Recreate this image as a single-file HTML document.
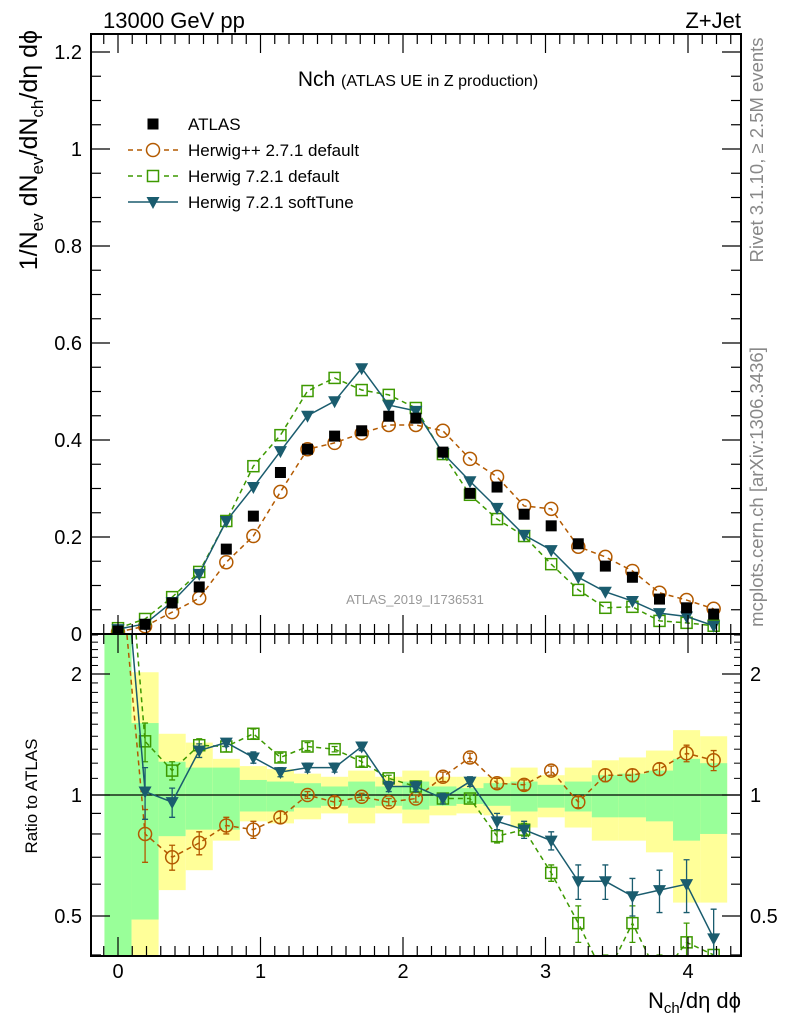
<!DOCTYPE html>
<html><head><meta charset="utf-8"><style>
html,body{margin:0;padding:0;background:#fff;}
svg{display:block;font-family:"Liberation Sans",sans-serif;}
</style></head><body>
<svg id="c" width="786" height="1024" viewBox="0 0 786 1024" xmlns="http://www.w3.org/2000/svg">
<defs>
<clipPath id="cm"><rect x="91" y="34" width="650" height="600"/></clipPath>
<clipPath id="cr"><rect x="91" y="634" width="650" height="322"/></clipPath>
</defs>
<g id="bands" clip-path="url(#cr)"></g>
<g id="marks"></g>
<g id="axes"></g>
<text x="103" y="28" font-size="22">13000 GeV pp</text>
<text x="741" y="28" font-size="22" text-anchor="end">Z+Jet</text>
<text x="418" y="86" text-anchor="middle" font-size="21">Nch <tspan font-size="16">(ATLAS UE in Z production)</tspan></text>
<text x="415" y="604" text-anchor="middle" font-size="13" fill="#999">ATLAS_2019_I1736531</text>
<text transform="translate(763,150) rotate(-90)" text-anchor="middle" font-size="18.5" fill="#888">Rivet 3.1.10, ≥ 2.5M events</text>
<text transform="translate(763,487) rotate(-90)" text-anchor="middle" font-size="18.5" fill="#888">mcplots.cern.ch [arXiv:1306.3436]</text>
<text transform="translate(37,30) rotate(-90)" text-anchor="end" font-size="25">1/N<tspan font-size="17" dy="6">ev</tspan><tspan dy="-6"> dN</tspan><tspan font-size="17" dy="6">ev</tspan><tspan dy="-6">/dN</tspan><tspan font-size="17" dy="6">ch</tspan><tspan dy="-6">/dη dϕ</tspan></text>
<text transform="translate(37,796) rotate(-90)" text-anchor="middle" font-size="17">Ratio to ATLAS</text>
<text x="741" y="1008" text-anchor="end" font-size="22">N<tspan font-size="15" dy="5">ch</tspan><tspan dy="-5">/dη dϕ</tspan></text>
<g id="legend"></g>
</svg>
<script>
const xs=[0,0.19,0.38,0.57,0.76,0.95,1.14,1.33,1.52,1.71,1.9,2.09,2.28,2.47,2.66,2.85,3.04,3.23,3.42,3.61,3.8,3.99,4.18];
const atlas=[0.006,0.02,0.064,0.097,0.175,0.243,0.333,0.381,0.408,0.419,0.449,0.445,0.375,0.29,0.303,0.247,0.223,0.186,0.14,0.117,0.072,0.054,0.041];
const hwpp=[0.004,0.016,0.045,0.074,0.148,0.202,0.293,0.381,0.394,0.414,0.431,0.431,0.419,0.361,0.324,0.264,0.258,0.18,0.159,0.13,0.085,0.07,0.052];
const hw7=[0.012,0.031,0.076,0.128,0.233,0.346,0.41,0.501,0.528,0.503,0.493,0.466,0.371,0.287,0.237,0.202,0.144,0.091,0.054,0.056,0.027,0.023,0.017];
const hwsoft=[0.01,0.021,0.066,0.124,0.233,0.303,0.377,0.45,0.48,0.548,0.472,0.46,0.373,0.315,0.26,0.204,0.173,0.117,0.087,0.068,0.043,0.036,0.017];
const rHwpp=[4.4,0.80,0.70,0.76,0.84,0.82,0.88,1.0,0.96,0.99,0.96,0.98,1.11,1.24,1.07,1.06,1.15,0.96,1.12,1.12,1.16,1.27,1.22];
const rHw7=[8.6,1.36,1.15,1.33,1.32,1.42,1.24,1.32,1.30,1.21,1.10,1.05,0.98,0.98,0.79,0.82,0.64,0.48,0.35,0.48,0.35,0.43,0.40];
const rSoft=[6.2,1.02,0.96,1.29,1.35,1.24,1.14,1.17,1.17,1.32,1.05,1.05,0.98,1.08,0.86,0.82,0.77,0.61,0.61,0.56,0.58,0.60,0.44];
const eHwpp=[0,0.12,0.05,0.05,0.04,0.04,0.03,0.02,0.03,0.02,0.02,0.02,0.03,0.03,0.03,0.03,0.03,0.03,0.04,0.04,0.04,0.06,0.07];
const eHw7=[0,0.15,0.06,0.05,0.04,0.04,0.03,0.03,0.02,0.03,0.02,0.02,0.02,0.02,0.03,0.03,0.03,0.05,0.05,0.05,0.05,0.05,0.05];
const eSoft=[0,0.15,0.08,0.05,0.03,0.04,0.03,0.03,0.03,0.03,0.03,0.03,0.03,0.03,0.04,0.04,0.04,0.06,0.06,0.06,0.07,0.09,0.08];
const yelHi=[3,2.02,1.42,1.35,1.23,1.18,1.16,1.13,1.11,1.15,1.11,1.15,1.11,1.11,1.11,1.17,1.12,1.17,1.22,1.24,1.29,1.45,1.40];
const yelLo=[0.3,0.3,0.58,0.65,0.77,0.86,0.85,0.87,0.90,0.85,0.90,0.85,0.89,0.90,0.89,0.83,0.88,0.83,0.77,0.77,0.72,0.54,0.54];
const grnHi=[3,1.51,1.21,1.17,1.17,1.09,1.08,1.07,1.05,1.08,1.05,1.08,1.05,1.04,1.07,1.08,1.06,1.08,1.12,1.13,1.15,1.23,1.2];
const grnLo=[0.3,0.49,0.79,0.82,0.82,0.91,0.91,0.93,0.94,0.93,0.94,0.92,0.94,0.95,0.94,0.91,0.93,0.91,0.88,0.88,0.86,0.77,0.8];
const mainTicks=["0","0.2","0.4","0.6","0.8","1","1.2"];
const xTicks=["0","1","2","3","4"];
const rTicks=["0.5","1","2"];

const NS="http://www.w3.org/2000/svg";
const X=v=>118+v*142.5;
const Y=v=>634-v*485;
const R=v=>795-Math.log10(v)*402;
const HW=xs[1]/2*142.5;
function el(tag,attrs,parent){const e=document.createElementNS(NS,tag);for(const k in attrs)e.setAttribute(k,attrs[k]);parent.appendChild(e);return e;}
const bands=document.getElementById('bands'),marks=document.getElementById('marks'),axes=document.getElementById('axes'),legend=document.getElementById('legend');

xs.forEach((x,i)=>{
  const y=el('rect',{x:X(x)-HW,y:R(yelHi[i]),width:2*HW,height:R(yelLo[i])-R(yelHi[i]),fill:'#ffff99'},bands);
  
  
  const g=el('rect',{x:X(x)-HW,y:R(grnHi[i]),width:2*HW,height:R(grnLo[i])-R(grnHi[i]),fill:'#99ff99'},bands);
  
  
});
const ref=el('line',{x1:91,x2:741,y1:R(1),y2:R(1),stroke:'#000','stroke-width':1.3},marks);



function marker(g,type,cx,cy,col){
  if(type==='circle')return el('circle',{cx,cy,r:6.5,fill:'none',stroke:col,'stroke-width':1.5},g);
  if(type==='square')return el('rect',{x:cx-5.5,y:cy-5.5,width:11,height:11,fill:'none',stroke:col,'stroke-width':1.5},g);
  if(type==='tri')return el('path',{d:`M${cx-6.5},${cy-5} L${cx+6.5},${cy-5} L${cx},${cy+7} Z`,fill:col},g);
  return el('rect',{x:cx-5.5,y:cy-5.5,width:11,height:11,fill:col},g);
}
function series(vals,yf,clip,col,type,dash,name,errs){
  const g=el('g',{'clip-path':`url(#${clip})`},marks);
  
  
  el('polyline',{points:vals.map((v,i)=>X(xs[i])+','+yf(v)).join(' '),fill:'none',stroke:col,'stroke-width':1.5,'stroke-dasharray':dash},g);
  vals.forEach((v,i)=>{
    if(errs&&errs[i]>0){
      const y1=yf(v+errs[i]),y2=yf(Math.max(v-errs[i],0.01)),cx=X(xs[i]);
      el('path',{d:`M${cx},${y1}V${y2}M${cx-3},${y1}H${cx+3}M${cx-3},${y2}H${cx+3}`,stroke:col,'stroke-width':1.3,fill:'none'},g);
    }
    const m=marker(g,type,X(xs[i]),yf(v),col);
    
    
  });
}
const cO='#b35a00',cG='#3d9900',cT='#1a5c6e';
series(hwpp,Y,'cm',cO,'circle','5,4','herwigpp-main-series',null);
series(hw7,Y,'cm',cG,'square','5,4','herwig7-default-main-series',null);
series(hwsoft,Y,'cm',cT,'tri','none','herwig7-softtune-main-series',null);
const ag=el('g',{'clip-path':'url(#cm)'},marks);


atlas.forEach((v,i)=>{const m=marker(ag,'fill',X(xs[i]),Y(v),'#000');
  
  });
series(rHwpp,R,'cr',cO,'circle','5,4','herwigpp-ratio-series',eHwpp);
series(rHw7,R,'cr',cG,'square','5,4','herwig7-default-ratio-series',eHw7);
series(rSoft,R,'cr',cT,'tri','none','herwig7-softtune-ratio-series',eSoft);

const f1=el('rect',{x:91,y:34,width:650,height:600,fill:'none',stroke:'#000','stroke-width':2},axes);


const f2=el('rect',{x:91,y:634,width:650,height:322,fill:'none',stroke:'#000','stroke-width':2},axes);


for(let k=-1;k<=43;k++){
  const v=k/10,x=X(v);if(x<92||x>740)continue;
  const L=(k%10===0)?19:10;
  [[34,1],[634,-1],[634,1],[956,-1]].forEach(([y0,d])=>el('line',{x1:x,x2:x,y1:y0,y2:y0+d*L,stroke:'#000','stroke-width':1.2},axes));
}
xTicks.forEach(t=>{const e=el('text',{x:X(+t),y:978,'text-anchor':'middle','font-size':20},axes);e.textContent=t;
  
  });
for(let k=0;k<=24;k++){
  const y=Y(k*0.05),L=(k%4===0)?19:10;
  el('line',{x1:91,x2:91+L,y1:y,y2:y,stroke:'#000','stroke-width':1.2},axes);
  el('line',{x1:741,x2:741-L,y1:y,y2:y,stroke:'#000','stroke-width':1.2},axes);
}
mainTicks.forEach(t=>{const e=el('text',{x:82,y:Y(+t)+7,'text-anchor':'end','font-size':20},axes);e.textContent=t;
  
  });
const rMinor=[0.4,0.5,0.6,0.7,0.8,0.9,1,2];
rMinor.forEach(v=>{const y=R(v),L=(v===0.5||v===1||v===2)?19:10;
  el('line',{x1:91,x2:91+L,y1:y,y2:y,stroke:'#000','stroke-width':1.2},axes);
  el('line',{x1:741,x2:741-L,y1:y,y2:y,stroke:'#000','stroke-width':1.2},axes);});
[1.1,1.2,1.3,1.4,1.5,1.6,1.7,1.8,1.9,2.1,2.2,2.3,2.4,2.5].forEach(v=>{const y=R(v);
  el('line',{x1:91,x2:98,y1:y,y2:y,stroke:'#000','stroke-width':1},axes);
  el('line',{x1:741,x2:734,y1:y,y2:y,stroke:'#000','stroke-width':1},axes);});
rTicks.forEach(t=>{
  const a=el('text',{x:82,y:R(+t)+7,'text-anchor':'end','font-size':20},axes);a.textContent=t;
  
  
  const b=el('text',{x:750,y:R(+t)+7,'font-size':20},axes);b.textContent=t;
  
  
});
const leg=[['ATLAS','fill','#000','none',124],['Herwig++ 2.7.1 default','circle',cO,'5,4',150],['Herwig 7.2.1 default','square',cG,'5,4',176],['Herwig 7.2.1 softTune','tri',cT,'none',202]];
leg.forEach(([t,type,col,dash,y])=>{
  const g=el('g',{},legend);
  
  
  if(type!=='fill')el('line',{x1:128,x2:178,y1:y,y2:y,stroke:col,'stroke-width':1.5,'stroke-dasharray':dash},g);
  if(type==='circle'||type==='square')el('rect',{x:146,y:y-7,width:14,height:14,fill:'#fff'},g);
  marker(g,type,153,y,col);
  const e=el('text',{x:188,y:y+6,'font-size':17},g);e.textContent=t;
});
</script>
</body></html>
